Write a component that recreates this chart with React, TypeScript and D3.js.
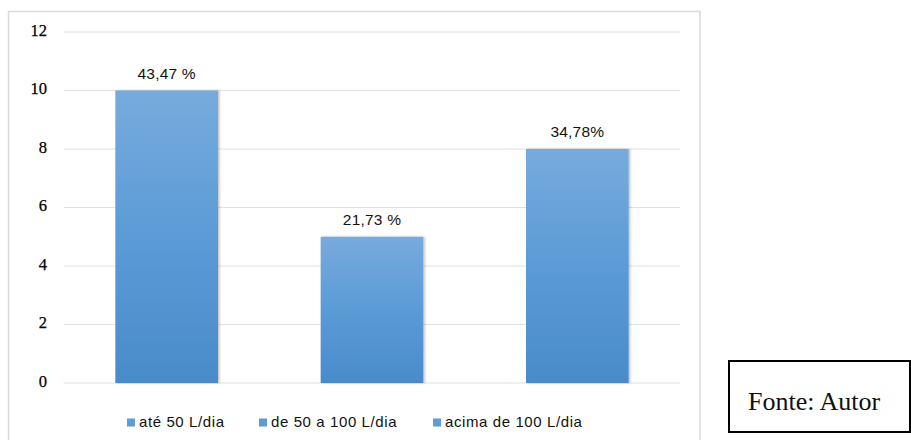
import React from "react";
import * as d3 from "d3";

const categories = ["até 50 L/dia", "de 50 a 100 L/dia", "acima de 100 L/dia"];
const values = [10, 5, 8];
const valueLabels = ["43,47 %", "21,73 %", "34,78%"];
const yTicks = [0, 2, 4, 6, 8, 10, 12];
const legendOffsets = [127, 259, 433];
const sourceText = "Fonte: Autor";

const W = 911;
const H = 440;
const plot = { left: 64, right: 680, top: 32, bottom: 383 };

export default function App() {
  const x = d3
    .scaleBand<string>()
    .domain(categories)
    .range([plot.left, plot.right])
    .paddingInner(0.5)
    .paddingOuter(0.25);
  const y = d3.scaleLinear().domain([0, 12]).range([plot.bottom, plot.top]);

  return (
    <svg
      width={W}
      height={H}
      style={{ position: "absolute", left: 0, top: 0, background: "#fff" }}
    >
      <defs>
        <linearGradient id="barGrad" x1="0" y1="0" x2="0" y2="1">
          <stop offset="0%" stopColor="#77abdd" />
          <stop offset="50%" stopColor="#5b9bd6" />
          <stop offset="100%" stopColor="#4a8bca" />
        </linearGradient>
        <filter id="shadow" x="-10%" y="-5%" width="130%" height="115%">
          <feDropShadow dx="1.5" dy="0" stdDeviation="1.2" floodColor="#000" floodOpacity="0.25" />
        </filter>
      </defs>
      <rect x={8.5} y={11.5} width={691.5} height={440} fill="#fff" stroke="#d9d9d9" strokeWidth={1.5} />
      {yTicks.map((t) => (
        <g key={t}>
          <line x1={plot.left} x2={plot.right} y1={y(t)} y2={y(t)} stroke="#e0e0e0" strokeWidth={1} />
          <text
            x={47}
            y={y(t)}
            textAnchor="end"
            dominantBaseline="middle"
            fontFamily="'Liberation Serif', 'Times New Roman', serif"
            fontSize={16.5}
            fill="#000"
            stroke="#000"
            strokeWidth={0.25}
          >
            {t}
          </text>
        </g>
      ))}
      {categories.map((c, i) => (
        <g key={c}>
          <rect
            x={x(c)!}
            y={y(values[i])}
            width={x.bandwidth()}
            height={y(0) - y(values[i])}
            fill="url(#barGrad)"
            filter="url(#shadow)"
          />
          <text
            x={x(c)! + x.bandwidth() / 2}
            y={y(values[i]) - 12}
            textAnchor="middle"
            fontFamily="'Liberation Sans', Arial, sans-serif"
            fontSize={15.5}
            letterSpacing={0.2}
            fill="#111"
          >
            {valueLabels[i]}
          </text>
        </g>
      ))}
      {categories.map((c, i) => (
        <g key={"lg" + c} transform={`translate(${legendOffsets[i]},0)`}>
          <rect x={0} y={418.5} width={8} height={8} fill="#5b9bd6" />
          <text
            x={12}
            y={426.5}
            fontFamily="'Liberation Sans', Arial, sans-serif"
            fontSize={15}
            letterSpacing={0.6}
            fill="#111"
          >
            {c}
          </text>
        </g>
      ))}
      <rect x={729} y={361} width={181} height={71} fill="#fff" stroke="#000" strokeWidth={2} />
      <text
        x={748}
        y={410}
        fontFamily="'Liberation Serif', 'Times New Roman', serif"
        fontSize={26}
        fill="#111"
      >
        {sourceText}
      </text>
    </svg>
  );
}
